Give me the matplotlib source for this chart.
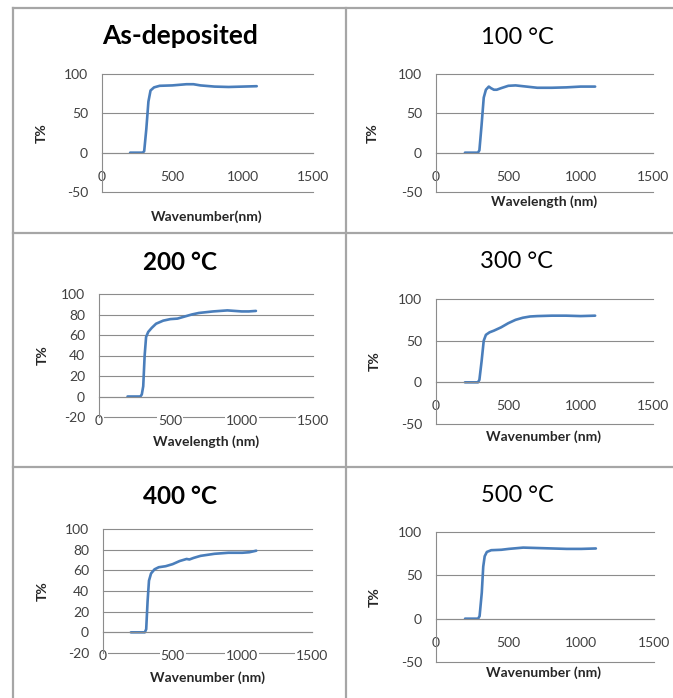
import numpy as np
import matplotlib
matplotlib.use('Agg')
import matplotlib.pyplot as plt
from matplotlib.lines import Line2D

plt.rcParams['font.family'] = ['Lato', 'DejaVu Sans']
plt.rcParams['axes.unicode_minus'] = False

# transmittance curves (wavelength nm, T %)
wl_asdep = [200, 290, 300, 315, 330, 345, 370, 410, 500, 600, 650, 700, 800, 900, 1000, 1100]
t_asdep = [0, 0, 2, 30, 65, 79, 83, 85, 85.5, 87, 87, 85.5, 84, 83.5, 84, 84.5]

wl_100 = [200, 290, 300, 315, 330, 345, 365, 380, 400, 420, 450, 500, 550, 600, 700, 800, 900, 1000, 1100]
t_100 = [0, 0, 3, 35, 70, 80, 84, 82, 80, 80, 82, 85, 85.5, 84.5, 82.5, 82.5, 83, 84, 84]

wl_200 = [200, 290, 300, 310, 320, 330, 345, 370, 400, 450, 500, 550, 600, 650, 700, 800, 900, 1000, 1050, 1100]
t_200 = [0, 0, 2, 10, 40, 58, 63, 67, 71, 74, 75.5, 76, 78, 80, 81.5, 83, 84, 83, 83, 83.5]

wl_300 = [200, 290, 300, 315, 330, 345, 370, 400, 450, 500, 550, 600, 650, 700, 800, 900, 1000, 1100]
t_300 = [0, 0, 3, 25, 50, 57, 60, 62, 66, 71, 75, 77.5, 79, 79.5, 80, 80, 79.5, 80]

wl_400 = [200, 300, 310, 320, 330, 345, 370, 400, 450, 500, 550, 600, 620, 650, 700, 800, 900, 1000, 1050, 1100]
t_400 = [0, 0, 3, 30, 50, 57, 61, 63, 64, 66, 69, 71, 70.5, 72, 74, 76, 77, 77, 77.5, 79]

wl_500 = [200, 290, 300, 315, 325, 335, 350, 380, 450, 500, 600, 700, 800, 900, 1000, 1100]
t_500 = [0, 0, 3, 30, 60, 72, 77, 79, 79.5, 80.5, 82, 81.5, 81, 80.5, 80.5, 81]

curves = [(wl_asdep, t_asdep), (wl_100, t_100), (wl_200, t_200),
          (wl_300, t_300), (wl_400, t_400), (wl_500, t_500)]

titles = ['As-deposited', '100 °C', '200 °C', '300 °C', '400 °C', '500 °C']
xlabels = ['Wavenumber(nm)', 'Wavelength (nm)', 'Wavelength (nm)',
           'Wavenumber (nm)', 'Wavenumber (nm)', 'Wavenumber (nm)']
yranges = [(-50, 50), (-50, 50), (-20, 20), (-50, 50), (-20, 20), (-50, 50)]
xticks = [0, 500, 1000, 1500]

W, H = 673, 698
# pixel boxes: left, top, right, bottom
boxes = [(102, 74, 313, 192), (436, 74, 653, 192), (99, 294, 313, 417),
         (436, 299, 653, 424), (103, 529, 312, 653), (436, 532, 654, 662)]
title_pos = [(180, 36), (517, 37), (180, 262), (517, 262), (180, 497), (517, 495)]
title_size = [19, 17, 17.5, 17, 17.5, 17]
title_bold = [True, False, True, False, True, False]
xlab_pos = [(207, 217), (544, 202), (206, 442), (544, 437), (207, 678), (544, 673)]
ylab_x = [42, 373, 43, 375, 43, 375]

gridc = '#8c8c8c'
tickc = '#404040'

fig = plt.figure(figsize=(W / 100, H / 100), dpi=100)

# table borders
def hline(y, x0, x1):
    fig.add_artist(Line2D([x0 / W, x1 / W], [1 - y / H, 1 - y / H], color='#a6a6a6', lw=1.6))
def vline(x, y0, y1):
    fig.add_artist(Line2D([x / W, x / W], [1 - y0 / H, 1 - y1 / H], color='#a6a6a6', lw=1.6))

hline(8, 13, 673)
hline(233, 13, 673)
hline(467, 13, 673)
vline(13, 8, 698)
vline(346, 8, 698)

for i in range(6):
    l, t, r, b = boxes[i]
    ax = fig.add_axes([l / W, 1 - b / H, (r - l) / W, (b - t) / H])
    ax.set_facecolor('none')
    x, y = curves[i]
    ax.plot(x, y, color='#4a7ebb', lw=1.9, solid_joinstyle='round', solid_capstyle='round', zorder=2)

    lo, step = yranges[i]
    ax.set_xlim(0, 1500)
    ax.set_ylim(lo, 100)
    ax.set_yticks(np.arange(lo, 101, step))
    ax.set_xticks(xticks)
    ax.set_xticklabels([str(v) for v in xticks])

    ax.set_axisbelow(True)
    ax.yaxis.grid(True, color=gridc, lw=0.8)
    for gl in ax.get_ygridlines():
        gl.set_clip_on(False)

    for s in ['top', 'right']:
        ax.spines[s].set_visible(False)
    ax.spines['left'].set_color(gridc)
    ax.spines['left'].set_linewidth(0.8)
    ax.spines['left'].set_zorder(3)
    ax.spines['bottom'].set_position(('data', 0))
    ax.spines['bottom'].set_color(gridc)
    ax.spines['bottom'].set_linewidth(0.8)

    ax.tick_params(axis='both', length=0, labelsize=10, labelcolor=tickc)
    ax.tick_params(axis='y', pad=10)
    ax.tick_params(axis='x', pad=13)
    ax.xaxis.set_zorder(2.6)
    for lbl in ax.get_xticklabels():
        lbl.set_bbox(dict(facecolor='white', edgecolor='none', pad=0.6))

    tx, ty = title_pos[i]
    fig.text(tx / W, 1 - ty / H, titles[i], ha='center', va='center',
             fontsize=title_size[i],
             weight='bold' if title_bold[i] else 'normal', color='black')
    lx, ly = xlab_pos[i]
    fig.text(lx / W, 1 - ly / H, xlabels[i], ha='center', va='center',
             fontsize=10, weight='bold', color='#262626')
    fig.text(ylab_x[i] / W, 1 - (t + b) / 2 / H, 'T%', ha='center', va='center',
             rotation=90, fontsize=10, weight='bold', color='#262626')

fig.savefig('out.png', dpi=100)
